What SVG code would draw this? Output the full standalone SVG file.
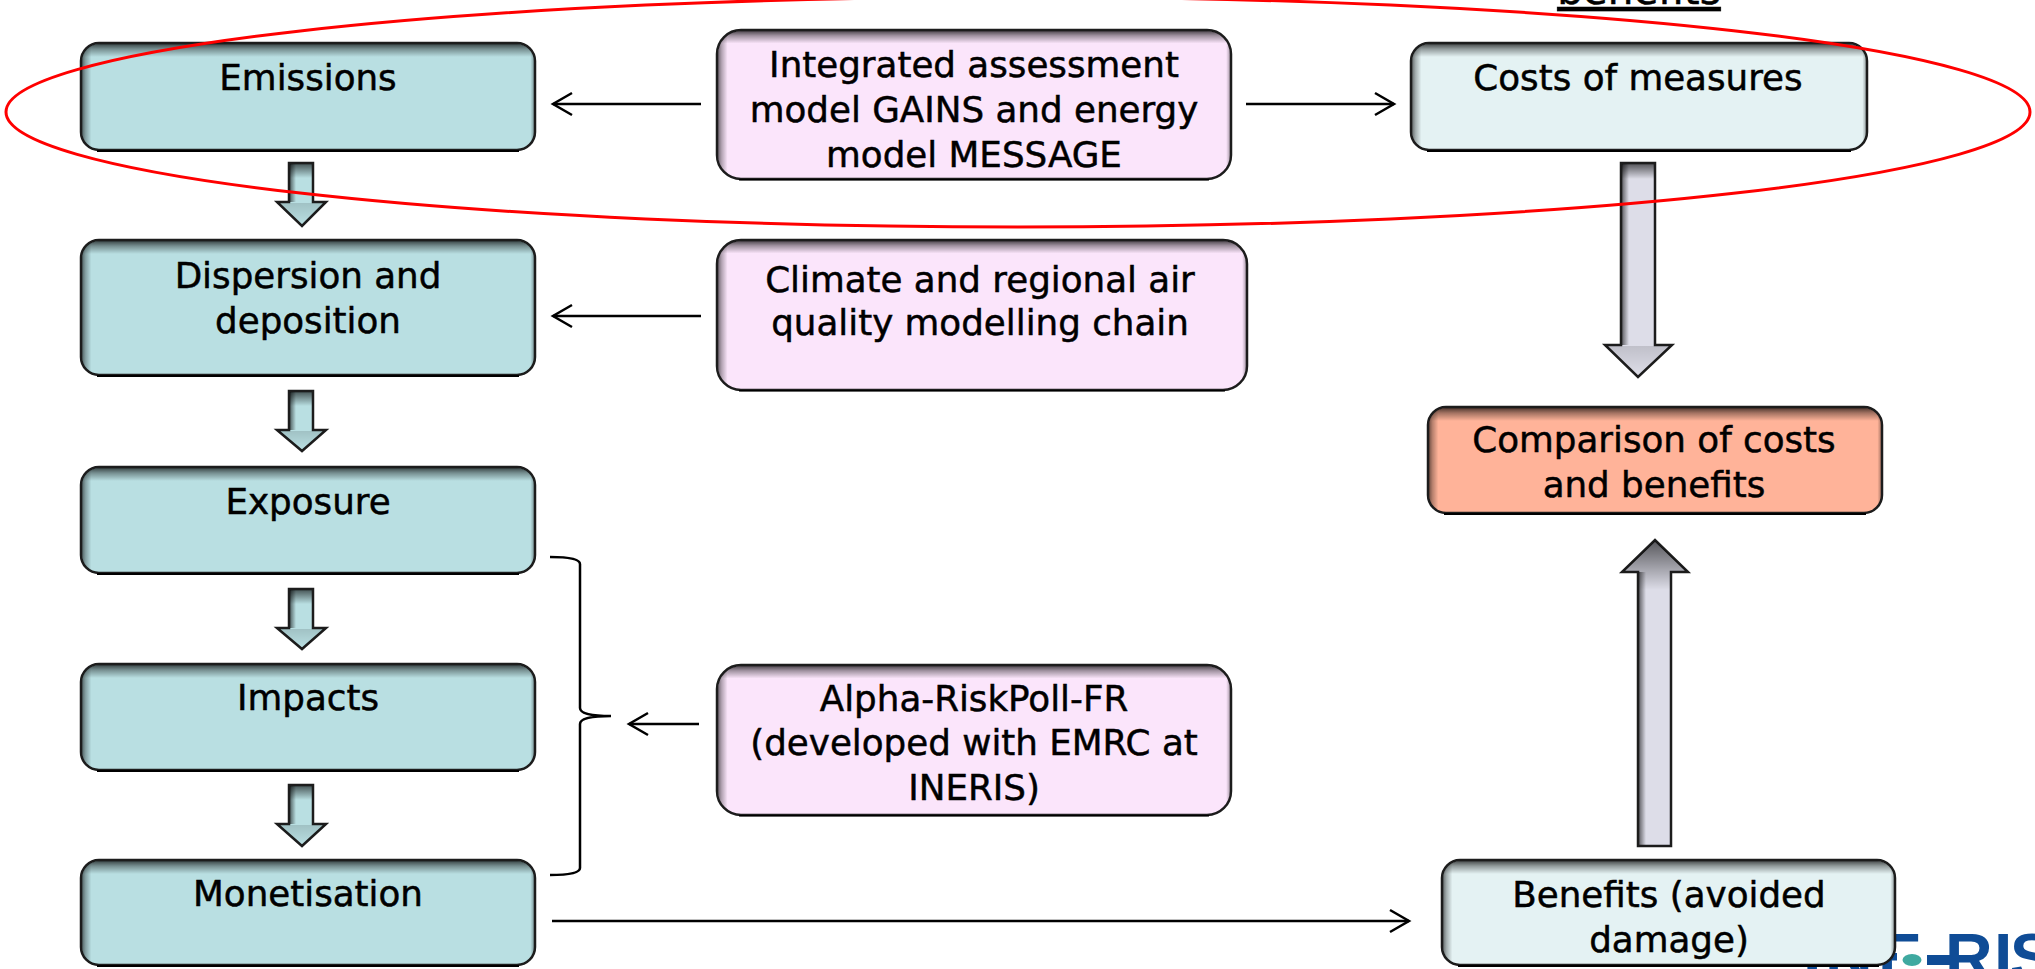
<svg xmlns="http://www.w3.org/2000/svg" width="2035" height="969" viewBox="0 0 2035 969">
<style>
.n{stroke:#1c1c1c;stroke-width:2.5}
.teal{fill:#b9dfe2}.light{fill:#e4f2f3}.pink{fill:#fbe5fb}.orange{fill:#ffb399}.grey{fill:#dddde8}
.t{font-family:"DejaVu Sans",sans-serif;font-size:35.7px;fill:#000;stroke:#000;stroke-width:.5;text-anchor:middle}
.c{fill:none;stroke:#000;stroke-width:2.5}
.b{fill:#000}
.st{fill:url(#st)}.sl{fill:url(#sl)}.sr{fill:url(#sr)}
.pt{fill:url(#pt)}.pl{fill:url(#pl)}.pr{fill:url(#pr)}
.at{fill:url(#at)}.al{fill:url(#al)}.h{fill:url(#at);opacity:.22}
</style>
<defs>
<linearGradient id="st" x1="0" y1="0" x2="0" y2="1"><stop offset="0" stop-opacity=".68"/><stop offset=".14" stop-opacity=".36"/><stop offset=".36" stop-opacity="0"/></linearGradient>
<linearGradient id="sl" x1="0" y1="0" x2="1" y2="0"><stop offset="0" stop-opacity=".55"/><stop offset=".1" stop-opacity=".28"/><stop offset=".26" stop-opacity="0"/></linearGradient>
<linearGradient id="sr" x1="1" y1="0" x2="0" y2="0"><stop offset="0" stop-opacity=".3"/><stop offset=".1" stop-opacity="0"/></linearGradient>
<linearGradient id="pt" x1="0" y1="0" x2="0" y2="1"><stop offset="0" stop-opacity=".68"/><stop offset=".1" stop-opacity=".36"/><stop offset=".26" stop-opacity="0"/></linearGradient>
<linearGradient id="pl" x1="0" y1="0" x2="1" y2="0"><stop offset="0" stop-opacity=".55"/><stop offset=".08" stop-opacity=".28"/><stop offset=".2" stop-opacity="0"/></linearGradient>
<linearGradient id="pr" x1="1" y1="0" x2="0" y2="0"><stop offset="0" stop-opacity=".3"/><stop offset=".08" stop-opacity="0"/></linearGradient>
<linearGradient id="at" x1="0" y1="0" x2="0" y2="1"><stop offset="0" stop-opacity=".6"/><stop offset="1" stop-opacity="0"/></linearGradient>
<linearGradient id="al" x1="0" y1="0" x2="1" y2="0"><stop offset="0" stop-opacity=".55"/><stop offset="1" stop-opacity="0"/></linearGradient>
<marker id="open" markerUnits="userSpaceOnUse" markerWidth="24" markerHeight="28" refX="21" refY="14" orient="auto">
<path d="M2 3L21 14L2 25" fill="none" stroke="#000" stroke-width="2.5"/>
</marker>
</defs>
<g id="title"><text class="t" x="1639" y="4" text-decoration="underline" style="font-size:40.5px">benefits</text></g>
<g id="logo">
<text x="1803 1825 1878 1945 1994 2010" y="980" style="font-family:'Liberation Sans',sans-serif;font-weight:700;font-size:66px;fill:#0f4c96">INERIS</text>
<rect x="1897" y="948" width="30" height="21" fill="#fff"/>
<rect x="1927" y="955" width="25" height="10" fill="#0f4c96"/>
<ellipse cx="1912" cy="960" rx="9.5" ry="6" fill="#3fa9a0"/>
</g>
<g id="connectors">
<path class="c" d="M701 104H553" marker-end="url(#open)"/>
<path class="c" d="M1246 104H1394" marker-end="url(#open)"/>
<path class="c" d="M701 316H553" marker-end="url(#open)"/>
<path class="c" d="M699 724H629" marker-end="url(#open)"/>
<path class="c" d="M552 921H1409" marker-end="url(#open)"/>
<path class="c" d="M550 557Q580 557 580 564V708Q580 716 611 716Q580 716 580 724V868Q580 875 550 875"/>
<g id="arrow-1"><path class="n teal" d="M289 163H313V202H326L302 226L277 202H289Z"/><rect class="at" x="290" y="164" width="22" height="14"/><rect class="al" x="290" y="164" width="6" height="38"/><path class="h" d="M278 203H326L302 225Z"/></g>
<g id="arrow-2"><path class="n teal" d="M289 391H313V430H326L302 451L277 430H289Z"/><rect class="at" x="290" y="392" width="22" height="14"/><rect class="al" x="290" y="392" width="6" height="38"/><path class="h" d="M278 431H326L302 450Z"/></g>
<g id="arrow-3"><path class="n teal" d="M289 589H313V628H326L302 649L277 628H289Z"/><rect class="at" x="290" y="590" width="22" height="14"/><rect class="al" x="290" y="590" width="6" height="38"/><path class="h" d="M278 629H326L302 648Z"/></g>
<g id="arrow-4"><path class="n teal" d="M289 785H313V824H326L302 846L277 824H289Z"/><rect class="at" x="290" y="786" width="22" height="14"/><rect class="al" x="290" y="786" width="6" height="38"/><path class="h" d="M278 825H326L302 845Z"/></g>
<g id="arrow-5"><path class="n grey" d="M1621 163H1655V345H1672L1638 377L1605 345H1621Z"/><rect class="at" x="1622" y="164" width="32" height="15"/><rect class="al" x="1622" y="164" width="7" height="181"/><path class="h" d="M1606 346H1671L1638 376Z"/></g>
<g id="arrow-6"><path class="n grey" d="M1638 846V572H1622L1655 540L1688 572H1671V846Z"/><path class="at" d="M1655 541L1687 571H1670V590H1639V571H1623Z"/><rect class="al" x="1639" y="572" width="7" height="273"/></g>
</g>
<g id="emissions"><rect class="n teal" x="81" y="43" width="454" height="107" rx="18"/><rect class="st" x="82" y="44" width="452" height="36" rx="17"/><rect class="sl" x="82" y="44" width="36" height="105" rx="17"/><rect class="sr" x="498" y="44" width="36" height="105" rx="17"/><rect class="b" x="97" y="150" width="422" height="2"/><text class="t" x="308" y="90">Emissions</text></g>
<g id="dispersion"><rect class="n teal" x="81" y="240" width="454" height="135" rx="18"/><rect class="st" x="82" y="241" width="452" height="36" rx="17"/><rect class="sl" x="82" y="241" width="36" height="133" rx="17"/><rect class="sr" x="498" y="241" width="36" height="133" rx="17"/><rect class="b" x="97" y="375" width="422" height="2"/><text class="t"><tspan x="308" y="288">Dispersion and</tspan><tspan x="308" y="333">deposition</tspan></text></g>
<g id="exposure"><rect class="n teal" x="81" y="467" width="454" height="106" rx="18"/><rect class="st" x="82" y="468" width="452" height="36" rx="17"/><rect class="sl" x="82" y="468" width="36" height="104" rx="17"/><rect class="sr" x="498" y="468" width="36" height="104" rx="17"/><rect class="b" x="97" y="573" width="422" height="2"/><text class="t" x="308" y="514">Exposure</text></g>
<g id="impacts"><rect class="n teal" x="81" y="664" width="454" height="106" rx="18"/><rect class="st" x="82" y="665" width="452" height="36" rx="17"/><rect class="sl" x="82" y="665" width="36" height="104" rx="17"/><rect class="sr" x="498" y="665" width="36" height="104" rx="17"/><rect class="b" x="97" y="770" width="422" height="2"/><text class="t" x="308" y="710">Impacts</text></g>
<g id="monetisation"><rect class="n teal" x="81" y="860" width="454" height="105" rx="18"/><rect class="st" x="82" y="861" width="452" height="36" rx="17"/><rect class="sl" x="82" y="861" width="36" height="103" rx="17"/><rect class="sr" x="498" y="861" width="36" height="103" rx="17"/><rect class="b" x="97" y="965" width="422" height="2"/><text class="t" x="308" y="906">Monetisation</text></g>
<g id="model"><rect class="n pink" x="717" y="30" width="514" height="149" rx="24"/><rect class="pt" x="718" y="31" width="512" height="48" rx="23"/><rect class="pl" x="718" y="31" width="48" height="147" rx="23"/><rect class="pr" x="1182" y="31" width="48" height="147" rx="23"/><rect class="b" x="739" y="179" width="470" height="1.5"/><text class="t"><tspan x="974" y="77">Integrated assessment</tspan><tspan x="974" y="122">model GAINS and energy</tspan><tspan x="974" y="167">model MESSAGE</tspan></text></g>
<g id="climate"><rect class="n pink" x="717" y="240" width="530" height="150" rx="24"/><rect class="pt" x="718" y="241" width="528" height="48" rx="23"/><rect class="pl" x="718" y="241" width="48" height="148" rx="23"/><rect class="pr" x="1198" y="241" width="48" height="148" rx="23"/><rect class="b" x="739" y="390" width="486" height="1.5"/><text class="t"><tspan x="980" y="292">Climate and regional air</tspan><tspan x="980" y="335">quality modelling chain</tspan></text></g>
<g id="alpha"><rect class="n pink" x="717" y="665" width="514" height="150" rx="24"/><rect class="pt" x="718" y="666" width="512" height="48" rx="23"/><rect class="pl" x="718" y="666" width="48" height="148" rx="23"/><rect class="pr" x="1182" y="666" width="48" height="148" rx="23"/><rect class="b" x="739" y="815" width="470" height="1.5"/><text class="t"><tspan x="974" y="711">Alpha-RiskPoll-FR</tspan><tspan x="974" y="755">(developed with EMRC at</tspan><tspan x="974" y="800">INERIS)</tspan></text></g>
<g id="costs"><rect class="n light" x="1411" y="43" width="456" height="107" rx="18"/><rect class="st" x="1412" y="44" width="454" height="36" rx="17"/><rect class="sl" x="1412" y="44" width="36" height="105" rx="17"/><rect class="sr" x="1830" y="44" width="36" height="105" rx="17"/><rect class="b" x="1427" y="150" width="424" height="2"/><text class="t" x="1638" y="90">Costs of measures</text></g>
<g id="comparison"><rect class="n orange" x="1428" y="407" width="454" height="106" rx="18"/><rect class="st" x="1429" y="408" width="452" height="36" rx="17"/><rect class="sl" x="1429" y="408" width="36" height="104" rx="17"/><rect class="sr" x="1845" y="408" width="36" height="104" rx="17"/><rect class="b" x="1444" y="513" width="422" height="2"/><text class="t"><tspan x="1654" y="452">Comparison of costs</tspan><tspan x="1654" y="497">and benefits</tspan></text></g>
<g id="benefits"><rect class="n light" x="1442" y="860" width="453" height="105" rx="18"/><rect class="st" x="1443" y="861" width="451" height="36" rx="17"/><rect class="sl" x="1443" y="861" width="36" height="103" rx="17"/><rect class="sr" x="1858" y="861" width="36" height="103" rx="17"/><rect class="b" x="1458" y="965" width="421" height="2"/><text class="t"><tspan x="1669" y="907">Benefits (avoided</tspan><tspan x="1669" y="952">damage)</tspan></text></g>
<g id="scope"><ellipse cx="1018" cy="112" rx="1012" ry="115" fill="none" stroke="#f00" stroke-width="3"/></g>
</svg>
